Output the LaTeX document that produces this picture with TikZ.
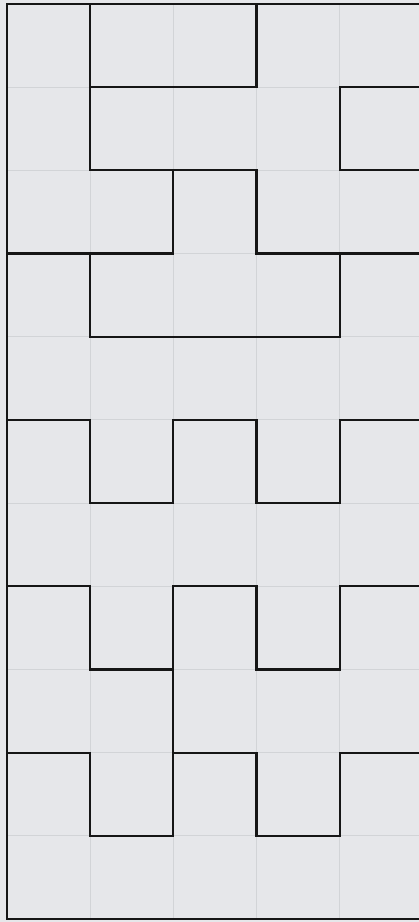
\documentclass[tikz,border=0pt]{standalone}
\definecolor{bgc}{HTML}{E6E7EA}
\definecolor{gridc}{HTML}{D2D4D7}
\definecolor{edgec}{HTML}{161616}
\tikzset{
  faint/.style={draw=gridc, line width=0.35pt},
  piece/.style={draw=edgec, line width=0.75pt, line cap=rect, line join=miter},
}
\begin{document}
\begin{tikzpicture}[x=1cm,y=-1cm]
\useasboundingbox (-0.084,-0.048) rectangle (4.952,11.036);
\fill[bgc] (-0.084,-0.048) rectangle (4.952,11.036);
% faint grid
\foreach \i in {1,2,3,4} \draw[faint] (\i,0) -- (\i,11);
\foreach \j in {1,...,10} \draw[faint] (0,\j) -- (5,\j);
% border
\draw[piece] (5,0) -- (0,0) -- (0,11) -- (5,11);
% top region
\draw[piece] (1,0) -- (1,2);
\draw[piece] (1,1) -- (3,1) -- (3,0);
\draw[piece] (1,2) -- (3,2) -- (3,3) -- (5,3);
\draw[piece] (0,3) -- (2,3) -- (2,2);
\draw[piece] (5,1) -- (4,1) -- (4,2) -- (5,2);
\draw[piece] (1,3) -- (1,4) -- (4,4) -- (4,3);
% crenellated rows
\draw[piece] (0,5) -- (1,5) -- (1,6) -- (2,6) -- (2,5) -- (3,5) -- (3,6) -- (4,6) -- (4,5) -- (5,5);
\draw[piece] (0,7) -- (1,7) -- (1,8) -- (2,8) -- (2,7) -- (3,7) -- (3,8) -- (4,8) -- (4,7) -- (5,7);
\draw[piece] (2,8) -- (2,9);
\draw[piece] (0,9) -- (1,9) -- (1,10) -- (2,10) -- (2,9) -- (3,9) -- (3,10) -- (4,10) -- (4,9) -- (5,9);
\end{tikzpicture}
\end{document}
